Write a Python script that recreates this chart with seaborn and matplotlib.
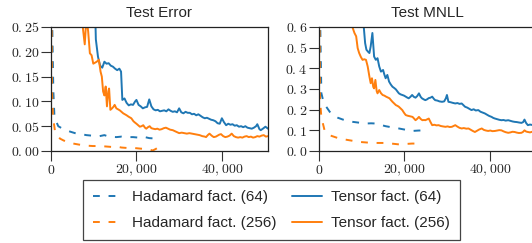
import matplotlib
matplotlib.use("Agg")
import matplotlib.pyplot as plt
from matplotlib.ticker import FuncFormatter, MultipleLocator
import seaborn as sns

# ---- data: Test Error ----
te_had64_x = [0, 300, 550, 800, 1200, 1700, 2500, 3600, 4500, 6000, 7000, 8300, 9500,
              11400, 12500, 13500, 15300, 16500, 17500, 19200, 20500, 21500, 23000, 24600]
te_had64_y = [0.45, 0.25, 0.12, 0.07, 0.060, 0.050, 0.046, 0.042, 0.039, 0.035, 0.034, 0.032, 0.031,
              0.030, 0.032, 0.029, 0.028, 0.029, 0.028, 0.028, 0.027, 0.029, 0.026, 0.025]

te_had256_x = [0, 250, 450, 900, 1500, 2100, 3000, 4000, 5200, 6500, 8000, 9800, 11500, 13000,
               14500, 15300, 16500, 18000, 19500, 20700, 22000, 23000, 23800, 24500, 25400]
te_had256_y = [0.45, 0.12, 0.07, 0.042, 0.032, 0.025, 0.021, 0.018, 0.015, 0.013, 0.011, 0.010, 0.010, 0.009,
               0.008, 0.009, 0.007, 0.006, 0.006, 0.005, 0.004, 0.003, 0.001, 0.004, 0.009]

te_ten64_x = [10000, 10500, 11000, 11500, 12000, 12500, 13000, 13500, 14000, 14500, 15000, 15500,
              16000, 16400, 16700, 17200, 17700, 18200, 18700, 19200, 19700, 20000, 20500, 21000,
              21500, 22000, 22500, 23000, 23500, 24000, 24500, 25000, 25500, 26000, 26500, 27000,
              27500, 28000, 28500, 29000, 29500, 30000, 30500, 31000, 31500, 32000, 32500, 33000,
              33500, 34000, 34500, 35000, 35500, 36000, 36500, 37000, 37500, 38000, 38500, 39000,
              39500, 40000, 40500, 41000, 41500, 42000, 42500, 43000, 43500, 44000, 44500, 45000,
              45500, 46000, 46500, 47000, 47500, 48000, 48300, 48800, 49100, 49600, 50200, 50800]
te_ten64_y = [0.40, 0.225, 0.19, 0.172, 0.168, 0.180, 0.176, 0.177, 0.172, 0.170, 0.166, 0.163,
              0.166, 0.160, 0.103, 0.106, 0.097, 0.092, 0.094, 0.093, 0.100, 0.103, 0.093, 0.090,
              0.086, 0.088, 0.089, 0.104, 0.090, 0.084, 0.082, 0.083, 0.080, 0.081, 0.082, 0.080,
              0.084, 0.081, 0.079, 0.080, 0.078, 0.086, 0.078, 0.076, 0.079, 0.077, 0.077, 0.074,
              0.075, 0.072, 0.074, 0.071, 0.068, 0.066, 0.067, 0.065, 0.063, 0.062, 0.060, 0.056,
              0.055, 0.066, 0.058, 0.052, 0.055, 0.053, 0.054, 0.051, 0.052, 0.049, 0.050, 0.048,
              0.050, 0.047, 0.046, 0.045, 0.047, 0.050, 0.054, 0.044, 0.042, 0.045, 0.049, 0.045]

te_ten256_x = [6500, 7100, 7500, 7900, 8300, 8700, 9100, 9500, 9900, 10300, 10700, 11200, 11600,
               11900, 12200, 12500, 12800, 13100, 13400, 13600, 13900, 14300, 14700, 14900, 15300,
               15700, 16100, 16500, 16900, 17300, 17700, 18200, 18800, 19300, 19700, 20000, 20400,
               20800, 21200, 21600, 22000, 22300, 22700, 23100, 23500, 23900, 24400, 24900, 25400,
               25900, 26400, 26900, 27400, 27900, 28500, 29000, 29500, 30000, 30600, 31200, 31800,
               32400, 33000, 33600, 34200, 34800, 35400, 36000, 36300, 36700, 37100, 37600, 38100,
               38600, 39000, 39400, 39800, 40300, 40800, 41300, 41800, 42300, 42800, 43300, 43800,
               44300, 44800, 45300, 45800, 46300, 46800, 47300, 47800, 48300, 48800, 49300, 49800,
               50300, 50800]
te_ten256_y = [0.40, 0.30, 0.245, 0.215, 0.27, 0.241, 0.197, 0.193, 0.176, 0.178, 0.180, 0.184, 0.160,
               0.150, 0.120, 0.112, 0.130, 0.090, 0.120, 0.126, 0.083, 0.086, 0.090, 0.093, 0.086,
               0.084, 0.082, 0.079, 0.076, 0.074, 0.072, 0.069, 0.066, 0.060, 0.057, 0.055, 0.052,
               0.049, 0.050, 0.052, 0.047, 0.045, 0.048, 0.050, 0.046, 0.045, 0.044, 0.045, 0.043,
               0.044, 0.046, 0.047, 0.045, 0.043, 0.042, 0.040, 0.038, 0.036, 0.037, 0.036, 0.035,
               0.036, 0.035, 0.034, 0.033, 0.032, 0.030, 0.029, 0.028, 0.032, 0.035, 0.031, 0.028,
               0.029, 0.031, 0.033, 0.034, 0.030, 0.028, 0.029, 0.031, 0.035, 0.030, 0.028, 0.027,
               0.028, 0.027, 0.029, 0.030, 0.028, 0.029, 0.027, 0.028, 0.030, 0.029, 0.031, 0.032,
               0.029, 0.030]

# ---- data: Test MNLL ----
nl_had64_x = [0, 300, 550, 950, 1700, 2500, 3300, 4400, 5600, 6700, 7900, 9400, 11000, 12200,
              13300, 14500, 15600, 17200, 18700, 20200, 21800, 23300, 24900]
nl_had64_y = [1.0, 0.6, 0.28, 0.246, 0.214, 0.190, 0.174, 0.161, 0.152, 0.146, 0.141, 0.137, 0.133, 0.134,
              0.133, 0.126, 0.120, 0.114, 0.109, 0.103, 0.097, 0.099, 0.100]

nl_had256_x = [0, 150, 250, 540, 1300, 2500, 4800, 7100, 9400, 12500, 15600, 18700, 21800, 23800]
nl_had256_y = [1.0, 0.6, 0.25, 0.165, 0.10, 0.076, 0.060, 0.052, 0.044, 0.039, 0.039, 0.032, 0.036, 0.036]

nl_ten64_x = [9800, 10400, 10800, 11100, 11500, 11800, 12100, 12500, 12900, 13300, 13700, 14100,
              14500, 15000, 15300, 15600, 16000, 16400, 16800, 17200, 17600, 18000, 18400, 18700,
              19100, 19500, 19900, 20300, 20700, 21000, 21400, 21800, 22200, 22600, 23000, 23400,
              23800, 24100, 24500, 24900, 25300, 25700, 26100, 26500, 26900, 27200, 27700, 28200,
              28800, 29300, 29700, 29950, 30300, 30800, 31300, 31900, 32400, 32900, 33400, 33800,
              34200, 34700, 35200, 35700, 36200, 36700, 37300, 37800, 38300, 38800, 39300, 39800,
              40400, 40800, 41200, 41700, 42200, 42700, 43200, 43700, 44300, 44800, 45300, 45800,
              46300, 46800, 47400, 47800, 48100, 48500, 48900, 49400, 49900, 50400, 50800]
nl_ten64_y = [0.9, 0.62, 0.522, 0.490, 0.480, 0.474, 0.506, 0.571, 0.457, 0.441, 0.449, 0.409,
              0.384, 0.392, 0.370, 0.352, 0.368, 0.336, 0.322, 0.311, 0.305, 0.298, 0.287, 0.279,
              0.274, 0.271, 0.268, 0.263, 0.258, 0.255, 0.262, 0.271, 0.262, 0.258, 0.266, 0.279,
              0.262, 0.255, 0.250, 0.246, 0.250, 0.256, 0.258, 0.263, 0.252, 0.246, 0.244, 0.240,
              0.238, 0.240, 0.255, 0.271, 0.238, 0.236, 0.233, 0.230, 0.232, 0.228, 0.230, 0.222,
              0.214, 0.210, 0.204, 0.198, 0.202, 0.196, 0.198, 0.190, 0.186, 0.182, 0.176, 0.170,
              0.165, 0.160, 0.157, 0.154, 0.151, 0.149, 0.150, 0.147, 0.149, 0.146, 0.143, 0.141,
              0.140, 0.138, 0.136, 0.140, 0.152, 0.135, 0.125, 0.128, 0.126, 0.130, 0.127]

nl_ten256_x = [7000, 7500, 7900, 8300, 8700, 9050, 9400, 9800, 10200, 10600, 11000, 11400, 11800,
               12100, 12400, 12700, 12900, 13200, 13500, 13700, 14100, 14500, 14900, 15300, 15700,
               16100, 16500, 16900, 17200, 17600, 18000, 18400, 18700, 19100, 19500, 19900, 20300,
               20700, 21100, 21500, 21900, 22300, 22600, 23000, 23400, 23800, 24200, 24600, 24900,
               25300, 25700, 26100, 26500, 27000, 27500, 28000, 28500, 29000, 29600, 30100, 30600,
               31100, 31500, 31900, 32400, 32900, 33400, 33900, 34500, 35000, 35500, 36000, 36500,
               37000, 37500, 38100, 38600, 39100, 39600, 40100, 40600, 41200, 41700, 42200, 42700,
               43200, 43700, 44300, 44800, 45300, 45800, 46300, 46800, 47400, 47800, 48100, 48500,
               48900, 49400, 49900, 50400, 50800]
nl_ten256_y = [0.9, 0.62, 0.595, 0.571, 0.555, 0.498, 0.474, 0.455, 0.441, 0.444, 0.441, 0.409, 0.360,
               0.328, 0.352, 0.310, 0.303, 0.344, 0.290, 0.279, 0.295, 0.280, 0.271, 0.268, 0.263,
               0.259, 0.255, 0.245, 0.238, 0.230, 0.222, 0.218, 0.214, 0.206, 0.198, 0.185, 0.174,
               0.171, 0.169, 0.167, 0.165, 0.156, 0.149, 0.156, 0.165, 0.155, 0.149, 0.150, 0.149,
               0.153, 0.157, 0.140, 0.125, 0.127, 0.124, 0.125, 0.121, 0.119, 0.117, 0.119, 0.116,
               0.117, 0.121, 0.125, 0.118, 0.112, 0.109, 0.111, 0.108, 0.109, 0.103, 0.097, 0.092,
               0.098, 0.104, 0.109, 0.102, 0.099, 0.097, 0.099, 0.096, 0.097, 0.099, 0.101, 0.100,
               0.095, 0.091, 0.088, 0.090, 0.093, 0.092, 0.089, 0.087, 0.088, 0.093, 0.100, 0.094,
               0.092, 0.090, 0.093, 0.095, 0.092]

titles = ["Test Error", "Test MNLL"]
labels = ["Hadamard fact. (64)", "Hadamard fact. (256)", "Tensor fact. (64)", "Tensor fact. (256)"]
blue, orange = "#1f77b4", "#ff7f0e"

sns.set_style("ticks")
plt.rcParams["font.family"] = ["Liberation Sans", "DejaVu Sans"]
plt.rcParams["mathtext.fontset"] = "cm"

fig = plt.figure(figsize=(5.32, 2.43), dpi=100)
W, H = 532, 243
ax1 = fig.add_axes([51 / W, 92 / H, 217 / W, 124 / H])
ax2 = fig.add_axes([319 / W, 92 / H, 217 / W, 124 / H])

panels = [
    (ax1, [(te_had64_x, te_had64_y), (te_had256_x, te_had256_y),
           (te_ten64_x, te_ten64_y), (te_ten256_x, te_ten256_y)], 0.25, 0.05, 2),
    (ax2, [(nl_had64_x, nl_had64_y), (nl_had256_x, nl_had256_y),
           (nl_ten64_x, nl_ten64_y), (nl_ten256_x, nl_ten256_y)], 0.6, 0.1, 1),
]
styles = [(blue, (3.5, 4.5)), (orange, (3.5, 4.5)), (blue, ""), (orange, "")]

for (ax, series, ymax, ystep, nd), title in zip(panels, titles):
    for (x, y), (col, dash), lab in zip(series, styles, labels):
        sns.lineplot(x=x, y=y, ax=ax, color=col, lw=1.4, label=lab,
                     estimator=None, sort=False, legend=False)
        if dash:
            ax.lines[-1].set_dashes(dash)
    ax.set_xlim(0, 50800)
    ax.set_ylim(0, ymax)
    ax.xaxis.set_major_locator(MultipleLocator(20000))
    ax.yaxis.set_major_locator(MultipleLocator(ystep))
    ax.xaxis.set_major_formatter(FuncFormatter(lambda v, p: f"${int(round(v)):,}$"))
    ax.yaxis.set_major_formatter(FuncFormatter(
        lambda v, p, nd=nd: "$" + f"{v:.{nd}f}".replace(".", "{.}") + "$"))
    ax.tick_params(labelsize=10, length=7, pad=1.5, width=0.8, color="#333333")
    for s in ax.spines.values():
        s.set_visible(True)
        s.set_linewidth(0.9)
        s.set_color("#222222")
    ax.set_title(title, fontsize=11, pad=7)
    ax.set_xlabel("")
    ax.set_ylabel("")

handles = ax1.lines[:4]
leg = fig.legend(handles, labels, ncol=2, loc="center",
                 bbox_to_anchor=(271.5 / W, 33 / H), bbox_transform=fig.transFigure,
                 fontsize=11, handlelength=1.95, handletextpad=0.6, columnspacing=1.0,
                 labelspacing=0.8, fancybox=False, framealpha=1, edgecolor="#444444",
                 borderpad=0.65)
leg.get_frame().set_linewidth(0.9)

fig.savefig("out.png", dpi=100)
